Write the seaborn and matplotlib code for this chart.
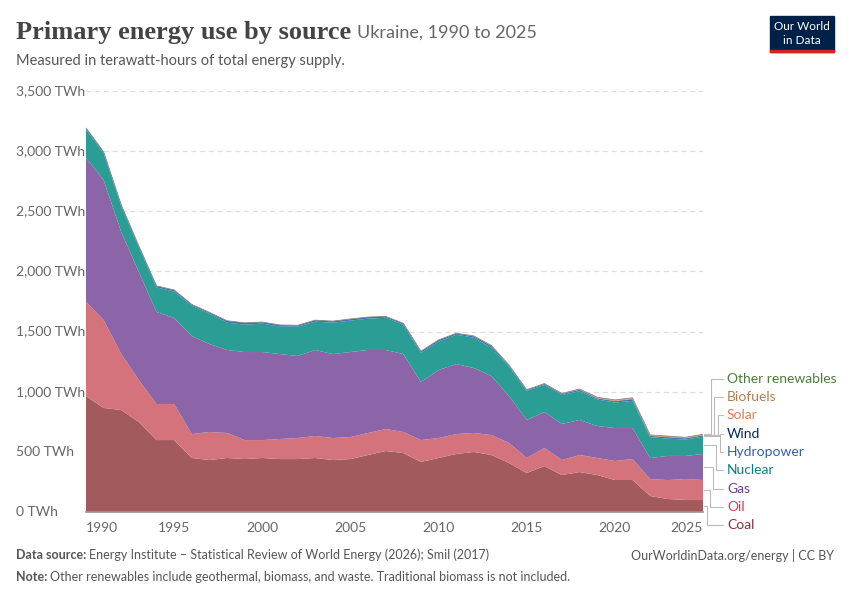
import matplotlib
matplotlib.use("Agg")
import matplotlib.pyplot as plt
import matplotlib.transforms as mtransforms
from matplotlib.lines import Line2D
import seaborn as sns
import numpy as np

sns.set_theme(style="white")
plt.rcParams['font.family'] = ['Lato', 'DejaVu Sans']

years = list(range(1990, 2026))
coal = [964, 865, 848, 748, 598, 598, 449, 432, 449, 440, 449, 440, 440, 449, 432, 440, 474, 507, 490, 416,
        449, 482, 499, 474, 407, 324, 382, 307, 332, 307, 266, 266, 133, 108, 100, 100]
oil = [782, 731, 465, 349, 300, 300, 199, 233, 208, 158, 149, 167, 175, 183, 183, 183, 183, 183, 175, 182,
       166, 166, 158, 166, 167, 125, 150, 125, 142, 142, 158, 174, 141, 158, 174, 166]
gas = [1197, 1164, 1015, 898, 765, 715, 815, 732, 690, 732, 732, 706, 682, 715, 698, 707, 690, 657, 648, 483,
       565, 582, 540, 490, 390, 316, 299, 300, 291, 266, 274, 258, 175, 200, 192, 216]
nuclear = [237, 221, 212, 204, 204, 220, 252, 252, 227, 227, 236, 228, 244, 235, 261, 261, 260, 268, 244, 243,
           236, 244, 252, 236, 244, 242, 225, 240, 240, 220, 212, 226, 174, 144, 136, 145]
hydro = [12, 12, 12, 12, 12, 12, 10, 10, 15, 15, 12, 13, 10, 12, 12, 13, 13, 10, 11, 12,
         13, 10, 11, 14, 9, 6, 8, 8, 10, 8, 8, 11, 8, 10, 8, 8]
wind = [0, 0, 0, 0, 0, 0, 0, 0, 0, 0, 0, 0, 0, 0, 0, 0, 0, 0, 0, 0,
        0, 0, 1, 1, 1, 1, 1, 2, 2, 3, 4, 4, 2, 3, 3, 3]
solar = [0, 0, 0, 0, 0, 0, 0, 0, 0, 0, 0, 0, 0, 0, 0, 0, 0, 0, 0, 0,
         0, 0, 1, 1, 1, 1, 1, 2, 3, 6, 8, 8, 6, 6, 6, 6]
biofuels = [0]*36
other = [1]*20 + [2]*16

names = ["Coal", "Oil", "Gas", "Nuclear", "Hydropower", "Wind", "Solar", "Biofuels", "Other renewables"]
series = [coal, oil, gas, nuclear, hydro, wind, solar, biofuels, other]
fill_colors = ["#a25a5c", "#d5737d", "#8c65a8", "#2a9d94", "#3e6fb8", "#1f3d6d", "#e59a6d", "#c49a6c", "#6f9b55"]
text_colors = ["#883039", "#d73c50", "#6d3e91", "#00847e", "#3360a9", "#00295b", "#d98057", "#b77d4e", "#4c7d3a"]

fig = plt.figure(figsize=(8.5, 6), dpi=100)
W, H = 850, 600
ax = fig.add_axes([86/W, (H-512)/H, (703-86)/W, (512-91)/H])
ax.stackplot(years, *series, colors=fill_colors, edgecolor="none")
tot = np.sum(series, axis=0)
ax.plot(years, tot, color="#888888", lw=0.6)
ax.set_xlim(1990, 2025)
ax.set_ylim(0, 3500)
yt = [0, 500, 1000, 1500, 2000, 2500, 3000, 3500]
ytl = ["0 TWh", "500 TWh", "1,000 TWh", "1,500 TWh", "2,000 TWh", "2,500 TWh", "3,000 TWh", "3,500 TWh"]
ax.set_yticks(yt)
ax.set_yticklabels([])
for v in yt[1:]:
    ax.axhline(v, color="#dddddd", lw=0.9, ls=(0, (4, 3)), zorder=0)
trans = mtransforms.blended_transform_factory(fig.transFigure, ax.transData)
for v, l in zip(yt, ytl):
    ax.text(16/W, v, l, transform=trans, ha="left", va="center", fontsize=10, color="#666666")
xt = [1990, 1995, 2000, 2005, 2010, 2015, 2020, 2025]
ax.set_xticks(xt)
ax.set_xticklabels([str(x) for x in xt], fontsize=10, color="#666666")
lbls = ax.get_xticklabels()
lbls[0].set_horizontalalignment("left")
lbls[-1].set_horizontalalignment("right")
ax.tick_params(axis="x", length=4, color="#999999", pad=3)
ax.tick_params(axis="y", length=0)
sns.despine(ax=ax, left=True)
ax.spines["bottom"].set_color("#999999")

last = np.array([s[-1] for s in series])
cum = np.cumsum(last)
mids = cum - last / 2
label_y = [525, 507, 489, 470, 452, 434, 415, 397, 379]
elbow_x = [707, 710, 713, 716, 720, 720, 718, 714, 711]
fig.canvas.draw()
for i in range(9):
    ty = H - label_y[i]
    xd, yd = ax.transData.transform((2025, mids[i]))
    ex = elbow_x[i]
    fig.add_artist(Line2D([xd + 1, ex, ex, 723], [yd, yd, ty, ty], transform=None,
                          color="#bbbbbb", lw=0.8))
    fig.text(727/W, ty/H, names[i], color=text_colors[i], fontsize=10, ha="left", va="center")

fig.text(16/W, 1-32/H, "Primary energy use by source", fontsize=19, fontweight="bold",
         color="#444444", family=["Liberation Serif", "DejaVu Serif"], va="center")
fig.text(357/W, 1-33/H, "Ukraine, 1990 to 2025", fontsize=13, color="#666666", va="center")
fig.text(16/W, 1-61/H, "Measured in terawatt-hours of total energy supply.", fontsize=10.5,
         color="#555555", va="center")

fig.patches.append(plt.Rectangle((770/W, 1-52/H), 64/W, 36/H, transform=fig.transFigure,
                                 color="#002147", zorder=5))
fig.patches.append(plt.Rectangle((770/W, 1-52/H), 64/W, 2/H, transform=fig.transFigure,
                                 color="#ce261e", zorder=6))
fig.text(802/W, 1-26/H, "Our World", color="white", fontsize=8.5, ha="center", va="center", zorder=7)
fig.text(802/W, 1-40/H, "in Data", color="white", fontsize=8.5, ha="center", va="center", zorder=7)

fig.text(16/W, 1-555/H, "Data source:", fontsize=9, color="#555555", va="center", fontweight="bold")
fig.text(89/W, 1-555/H, "Energy Institute – Statistical Review of World Energy (2026); Smil (2017)",
         fontsize=9, color="#555555", va="center")
fig.text(834/W, 1-555/H, "OurWorldinData.org/energy | CC BY", fontsize=9, color="#555555",
         va="center", ha="right")
fig.text(16/W, 1-577/H, "Note:", fontsize=9, color="#555555", va="center", fontweight="bold")
fig.text(50/W, 1-577/H, "Other renewables include geothermal, biomass, and waste. Traditional biomass is not included.",
         fontsize=9, color="#555555", va="center")

fig.savefig("out.png", dpi=100)
